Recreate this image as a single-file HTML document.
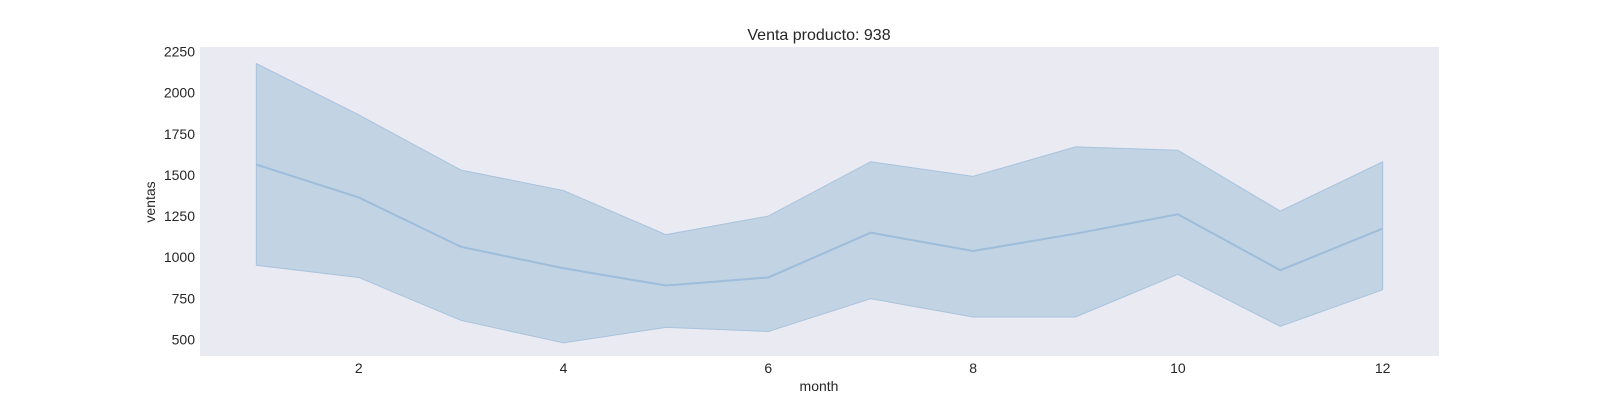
<!DOCTYPE html>
<html><head><meta charset="utf-8"><style>
body{margin:0;background:#fff;}
svg text{font-family:"Liberation Sans",Arial,sans-serif;fill:#262626;}
</style></head><body>
<svg id="chart" width="1600" height="400">
<rect x="200" y="47" width="1239" height="309" fill="#eaeaf2"/>
<text x="819" y="40" font-size="16" text-anchor="middle">Venta producto: 938</text>
<text x="819" y="391" font-size="14" text-anchor="middle">month</text>
<text transform="translate(155,202) rotate(-90)" font-size="14" text-anchor="middle">ventas</text>
<g id="marks"></g>
<g id="ticks"></g>
</svg>
<script>
const months = [1,2,3,4,5,6,7,8,9,10,11,12];
const meanSales = [1563,1363,1063,933,828,877,1149,1038,1143,1261,921,1174];
const upperSales = [2176,1865,1529,1405,1137,1250,1580,1491,1670,1650,1280,1580];
const lowerSales = [951,877,616,480,574,549,748,637,637,896,580,802];
const xTicks = [2,4,6,8,10,12];
const yTicks = [500,750,1000,1250,1500,1750,2000,2250];

const X0=200,X1=1439,Y0=356,Y1=47;
const xMin=0.45,xMax=12.55,yMin=400,yMax=2277;
const sx=v=>X0+(v-xMin)/(xMax-xMin)*(X1-X0);
const sy=v=>Y0-(v-yMin)/(yMax-yMin)*(Y0-Y1);
const NS="http://www.w3.org/2000/svg";
const marks=document.getElementById('marks'), ticks=document.getElementById('ticks');

let pts=months.map((m,i)=>sx(m)+','+sy(upperSales[i]));
pts=pts.concat(months.map((m,i)=>sx(m)+','+sy(lowerSales[i])).reverse());
const band=document.createElementNS(NS,'polygon');
band.setAttribute('points',pts.join(' '));
band.setAttribute('fill','#c2d3e4');
band.setAttribute('stroke','#a9c3dd');
band.setAttribute('stroke-width','1');


marks.appendChild(band);

const line=document.createElementNS(NS,'polyline');
line.setAttribute('points',months.map((m,i)=>sx(m)+','+sy(meanSales[i])).join(' '));
line.setAttribute('fill','none');
line.setAttribute('stroke','#9dbddb');
line.setAttribute('stroke-width','2');


marks.appendChild(line);

xTicks.forEach(t=>{
  const el=document.createElementNS(NS,'text');
  el.setAttribute('x',sx(t));el.setAttribute('y',373);
  el.setAttribute('font-size','14');el.setAttribute('text-anchor','middle');
  
  
  el.textContent=t;ticks.appendChild(el);
});
yTicks.forEach(t=>{
  const el=document.createElementNS(NS,'text');
  el.setAttribute('x',195);el.setAttribute('y',sy(t)+5);
  el.setAttribute('font-size','14');el.setAttribute('text-anchor','end');
  
  
  el.textContent=t;ticks.appendChild(el);
});
</script>
</body></html>
